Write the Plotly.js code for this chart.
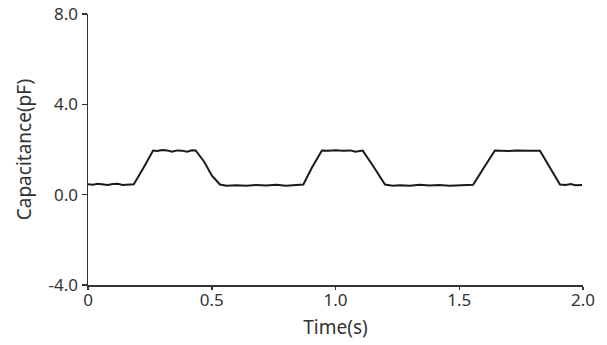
<!DOCTYPE html>
<html>
<head>
<meta charset="utf-8">
<script src="https://cdn.plot.ly/plotly-3.0.1.min.js"></script>
<style>html,body{margin:0;padding:0;background:#fff;}#chart{width:607px;height:345px;}</style>
</head>
<body>
<div id="chart"></div>
<script>
const timeS = [0, 0.02, 0.04, 0.06, 0.08, 0.10, 0.12, 0.14, 0.16, 0.185, 0.225, 0.263, 0.28, 0.30, 0.32, 0.34, 0.36, 0.38, 0.40, 0.42, 0.435, 0.47, 0.50, 0.533, 0.56, 0.60, 0.64, 0.68, 0.72, 0.76, 0.80, 0.84, 0.87, 0.905, 0.945, 0.97, 1.00, 1.03, 1.06, 1.08, 1.11, 1.15, 1.20, 1.23, 1.26, 1.30, 1.34, 1.38, 1.42, 1.46, 1.50, 1.53, 1.556, 1.60, 1.644, 1.67, 1.70, 1.73, 1.76, 1.79, 1.826, 1.865, 1.907, 1.93, 1.95, 1.97, 1.996];
const capacitancePF = [0.46, 0.44, 0.48, 0.45, 0.43, 0.47, 0.48, 0.43, 0.44, 0.46, 1.20, 1.95, 1.93, 1.98, 1.96, 1.90, 1.96, 1.95, 1.90, 1.97, 1.96, 1.45, 0.85, 0.45, 0.40, 0.42, 0.40, 0.43, 0.41, 0.44, 0.40, 0.42, 0.45, 1.20, 1.96, 1.95, 1.97, 1.94, 1.96, 1.90, 1.95, 1.30, 0.45, 0.40, 0.42, 0.40, 0.44, 0.41, 0.43, 0.40, 0.42, 0.41, 0.44, 1.20, 1.96, 1.95, 1.93, 1.96, 1.97, 1.95, 1.94, 1.20, 0.45, 0.43, 0.47, 0.42, 0.43];
const xTickVals = [0, 0.5, 1.0, 1.5, 2.0];
const xTickText = ['0', '0.5', '1.0', '1.5', '2.0'];
const yTickVals = [-4, 0, 4, 8];
const yTickText = ['-4.0', '0.0', '4.0', '8.0'];

const fontFam = 'Noto Sans, Open Sans, sans-serif';
Plotly.newPlot('chart', [{
  x: timeS, y: capacitancePF, mode: 'lines', type: 'scatter',
  line: {color: '#1a1a1a', width: 2}, hoverinfo: 'skip'
}], {
  width: 607, height: 345,
  margin: {l: 88, r: 24, t: 14, b: 60},
  paper_bgcolor: '#fff', plot_bgcolor: '#fff',
  showlegend: false,
  font: {family: fontFam, size: 17, color: '#333'},
  xaxis: {
    range: [0, 2], tickvals: xTickVals, ticktext: xTickText,
    showgrid: false, zeroline: false, showline: true, linecolor: '#333', linewidth: 1.5,
    ticks: 'outside', ticklen: 3, tickcolor: '#333', tickwidth: 1.5,
    ticklabelstandoff: -4,
    title: {text: 'Time(s)', font: {size: 19, color: '#333'}, standoff: 11}
  },
  yaxis: {
    range: [-4, 8], tickvals: yTickVals, ticktext: yTickText,
    showgrid: false, zeroline: false, showline: true, linecolor: '#333', linewidth: 1.5,
    ticks: 'outside', ticklen: 5, tickcolor: '#333', tickwidth: 1.5,
    title: {text: 'Capacitance(pF)', font: {size: 19, color: '#333'}, standoff: 12}
  }
}, {staticPlot: true, displayModeBar: false});
</script>
</body>
</html>
